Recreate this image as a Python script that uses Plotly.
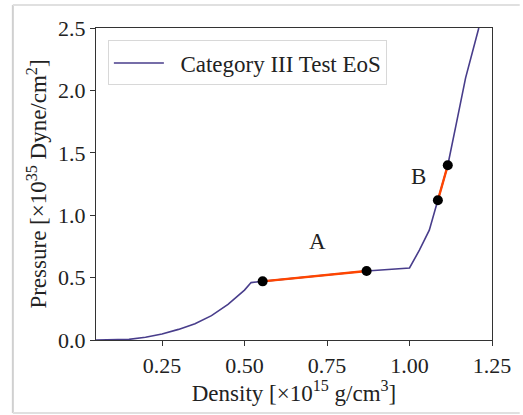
import plotly.graph_objects as go

density = [0.05, 0.10, 0.15, 0.20, 0.25, 0.30, 0.35, 0.40, 0.45, 0.50, 0.52, 0.555, 0.87, 1.0, 1.03, 1.06, 1.086, 1.116, 1.14, 1.17, 1.21]
pressure = [0.0, 0.0, 0.005, 0.022, 0.048, 0.085, 0.13, 0.195, 0.285, 0.40, 0.46, 0.47, 0.553, 0.577, 0.72, 0.88, 1.12, 1.40, 1.71, 2.10, 2.5]

seg_a_x = [0.555, 0.87]
seg_a_y = [0.47, 0.553]
seg_b_x = [1.086, 1.116]
seg_b_y = [1.12, 1.40]

labels = ["A", "B"]
label_x = [0.72, 1.026]
label_y = [0.79, 1.31]

x_ticks = [0.25, 0.50, 0.75, 1.00, 1.25]
y_ticks = [0.0, 0.5, 1.0, 1.5, 2.0, 2.5]

FONT = "Liberation Serif"
BLUE = "#483d8b"
ORANGE = "#ff4500"

fig = go.Figure()
fig.add_trace(go.Scatter(x=density, y=pressure, mode="lines",
                         line=dict(color=BLUE, width=1.6),
                         name="  Category III Test EoS"))
for sx, sy in [(seg_a_x, seg_a_y), (seg_b_x, seg_b_y)]:
    fig.add_trace(go.Scatter(x=sx, y=sy, mode="lines+markers",
                             line=dict(color=ORANGE, width=2.4),
                             marker=dict(color="black", size=10),
                             showlegend=False))
for t, lx, ly in zip(labels, label_x, label_y):
    fig.add_annotation(x=lx, y=ly, text=t, showarrow=False,
                       font=dict(family=FONT, size=23, color="#222"))

# outer frame like the reference screenshot
fig.add_shape(type="line", xref="paper", yref="paper", x0=-0.21, x1=-0.21, y0=-0.234, y1=1.074,
              line=dict(color="#d0d0d0", width=2))
fig.add_shape(type="line", xref="paper", yref="paper", x0=-0.21, x1=1.07, y0=1.074, y1=1.074,
              line=dict(color="#e0e0e0", width=2))
fig.add_shape(type="line", xref="paper", yref="paper", x0=-0.21, x1=1.07, y0=-0.234, y1=-0.234,
              line=dict(color="#e0e0e0", width=2))

fig.update_layout(
    width=523, height=415,
    margin=dict(l=96, r=26, t=28, b=75),
    paper_bgcolor="white", plot_bgcolor="white",
    font=dict(family=FONT, size=22, color="#222"),
    showlegend=True,
    legend=dict(x=0.03, y=0.96, xanchor="left", yanchor="top",
                bgcolor="white", bordercolor="#d8d8d8", borderwidth=1,
                font=dict(family=FONT, size=23), itemwidth=50),
    xaxis=dict(range=[0.05, 1.25], tickvals=x_ticks, ticktext=[f"{v:.2f}" for v in x_ticks],
               showgrid=False, zeroline=False, showline=True, linecolor="#333", linewidth=1.2,
               mirror=True, ticks="outside", ticklen=5, tickcolor="#333",
               title=dict(text="Density [×10<sup>15</sup> g/cm<sup>3</sup>]", font=dict(size=23), standoff=6)),
    yaxis=dict(range=[0.0, 2.5], tickvals=y_ticks, ticktext=[f"{v:.1f}" for v in y_ticks],
               showgrid=False, zeroline=False, showline=True, linecolor="#333", linewidth=1.2,
               mirror=True, ticks="outside", ticklen=5, tickcolor="#333",
               title=dict(text="Pressure [×10<sup>35</sup> Dyne/cm<sup>2</sup>]", font=dict(size=23), standoff=4)),
)

fig.write_html("out.html")
